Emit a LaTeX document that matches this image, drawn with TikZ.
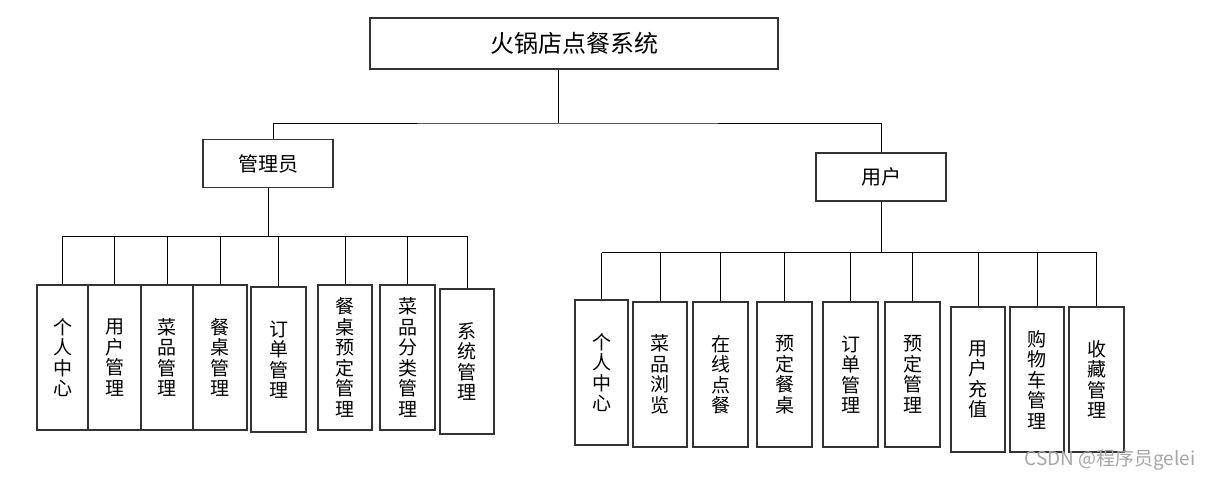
\documentclass[tikz,border=0pt]{standalone}
\usepackage{fontspec}
\setmainfont{Noto Sans CJK SC}
\usetikzlibrary{positioning,calc}
\tikzset{
  sysbox/.style={rectangle, draw=black!80, line width=1.1pt, minimum width=408pt,
                 minimum height=51pt, font=\fontsize{24}{26}\selectfont},
  rolebox/.style={rectangle, draw=black!80, line width=1.1pt, minimum width=130pt,
                  minimum height=48pt, font=\fontsize{20}{22}\selectfont},
  funcbox/.style={rectangle, draw=black!80, line width=1.1pt, minimum height=145pt,
                  inner sep=0pt, align=center, font=\fontsize{19}{20.5}\selectfont},
  ln/.style={draw=black, line width=1pt},
  wmark/.style={font=\fontsize{19}{21}\selectfont, text=black!35, anchor=west},
}

\begin{document}
\begin{tikzpicture}[x=1pt, y=-1pt]
\useasboundingbox (0,0) rectangle (1211,479);

% ============================ top levels ==============================
\node[sysbox]  (sys) at (574,43.5) {火锅店点餐系统};
\node[rolebox] (adm) at (268,163.5) {管理员};
\node[rolebox] (usr) at (881,177)   {用户};

\coordinate (tb) at (558,123);
\draw[ln] ([xshift=-16]sys.south) -- (tb);
\draw[ln] ([xshift=5]adm.north) |- (tb) -| (usr.north);

% ============================ admin functions ==========================
\foreach \i/\x/\y/\w/\txt in {%
1/62.5/357.5/51/{个\\人\\中\\心},%
2/114.5/357.5/53/{用\\户\\管\\理},%
3/167/357.5/52/{菜\\品\\管\\理},%
4/220/357.5/54/{餐\\桌\\管\\理},%
5/278.5/359.5/55/{订\\单\\管\\理},%
6/345/357.5/54/{餐\\桌\\预\\定\\管\\理},%
7/407.5/357.5/55/{菜\\品\\分\\类\\管\\理},%
8/467/361.5/54/{系\\统\\管\\理}%
}
{
  \node[funcbox, minimum width=\w pt] (a\i) at (\x,\y) {\txt};
}
\path (adm.south) ++(0,48) coordinate (ab);
\draw[ln] (adm.south) -- (ab);
\draw[ln] (a1.north |- ab) -- (a8.north |- ab);
\foreach \i in {1,...,8} \draw[ln] (a\i.north |- ab) -- (a\i.north);

% ============================ user functions ===========================
\foreach \i/\x/\y/\w/\txt in {%
1/601.5/372.5/53/{个\\人\\中\\心},%
2/660/374.5/54/{菜\\品\\浏\\览},%
3/720.5/374.5/55/{在\\线\\点\\餐},%
4/784.5/374.5/55/{预\\定\\餐\\桌},%
5/850.5/374.5/55/{订\\单\\管\\理},%
6/912.5/374.5/55/{预\\定\\管\\理},%
7/978/379.5/54/{用\\户\\充\\值},%
8/1037/379.5/54/{购\\物\\车\\管\\理},%
9/1096.5/379.5/55/{收\\藏\\管\\理}%
}
{
  \node[funcbox, minimum width=\w pt] (u\i) at (\x,\y) {\txt};
}
\path (usr.south) ++(0,51) coordinate (ub);
\draw[ln] (usr.south) -- (ub);
\draw[ln] (u1.north |- ub) -- (u9.north |- ub);
\foreach \i in {1,...,9} \draw[ln] (u\i.north |- ub) -- (u\i.north);

\node[wmark] (wm) at (1021,460) {CSDN @程序员gelei};

\end{tikzpicture}
\end{document}
